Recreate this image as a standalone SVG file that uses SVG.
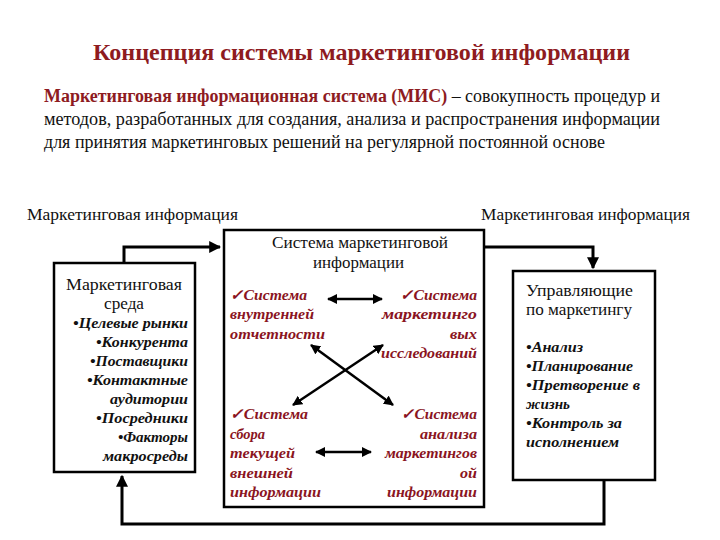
<svg xmlns="http://www.w3.org/2000/svg" width="720" height="540" viewBox="0 0 720 540">
<defs>
<marker id="ah" viewBox="0 0 10 10" refX="9" refY="5" markerWidth="4" markerHeight="4" orient="auto-start-reverse">
<path d="M0,0 L10,5 L0,10 z" fill="#000"/>
</marker>
</defs>
<rect width="720" height="540" fill="#fff"/>
<text font-family="Liberation Serif" font-size="23" font-weight="bold" fill="#8E1B1F" x="93" y="60" textLength="537" lengthAdjust="spacingAndGlyphs">Концепция системы маркетинговой информации</text>
<text font-family="Liberation Serif" font-size="18" fill="#111" x="44" y="102" textLength="616" lengthAdjust="spacingAndGlyphs"><tspan fill="#8E1B1F" font-weight="bold">Маркетинговая информационная система (МИС)</tspan> – совокупность процедур и</text>
<text font-family="Liberation Serif" font-size="18" fill="#111" x="44" y="125" textLength="616" lengthAdjust="spacingAndGlyphs">методов, разработанных для создания, анализа и распространения информации</text>
<text font-family="Liberation Serif" font-size="18" fill="#111" x="44" y="148" textLength="561" lengthAdjust="spacingAndGlyphs">для принятия маркетинговых решений на регулярной постоянной основе</text>
<text font-family="Liberation Serif" font-size="16" fill="#111" x="27" y="220" textLength="211" lengthAdjust="spacingAndGlyphs">Маркетинговая информация</text>
<text font-family="Liberation Serif" font-size="16" fill="#111" x="481" y="220" textLength="209" lengthAdjust="spacingAndGlyphs">Маркетинговая информация</text>
<g id="connectors" fill="none" stroke="#000" stroke-width="3">
<polyline points="124,263 124,247 220,247" marker-end="url(#ah)"/>
<polyline points="485,247 593,247 593,268" marker-end="url(#ah)"/>
<polyline points="604,481 604,524 122,524 122,476" marker-end="url(#ah)"/>
</g>
<g id="env">
<rect x="54" y="263" width="141" height="209" fill="#fff" stroke="#000" stroke-width="2.5"/>
<text font-family="Liberation Serif" font-size="16" fill="#111" x="66" y="290" textLength="116" lengthAdjust="spacingAndGlyphs">Маркетинговая</text>
<text font-family="Liberation Serif" font-size="16" fill="#111" x="104" y="309" textLength="40" lengthAdjust="spacingAndGlyphs">среда</text>
<g font-family="Liberation Serif" font-size="15" font-weight="bold" font-style="italic" fill="#111">
<text font-family="Liberation Serif" x="73" y="328" textLength="115" lengthAdjust="spacingAndGlyphs">•Целевые рынки</text>
<text font-family="Liberation Serif" x="96" y="347" textLength="92" lengthAdjust="spacingAndGlyphs">•Конкурента</text>
<text font-family="Liberation Serif" x="90" y="366" textLength="98" lengthAdjust="spacingAndGlyphs">•Поставщики</text>
<text font-family="Liberation Serif" x="87" y="385" textLength="101" lengthAdjust="spacingAndGlyphs">•Контактные</text>
<text font-family="Liberation Serif" x="110" y="404" textLength="78" lengthAdjust="spacingAndGlyphs">аудитории</text>
<text font-family="Liberation Serif" x="96" y="423" textLength="92" lengthAdjust="spacingAndGlyphs">•Посредники</text>
<text font-family="Liberation Serif" x="118" y="442" textLength="70" lengthAdjust="spacingAndGlyphs">•Факторы</text>
<text font-family="Liberation Serif" x="103" y="461" textLength="85" lengthAdjust="spacingAndGlyphs">макросреды</text>
</g>
</g>
<g id="mis">
<rect x="224" y="230" width="260" height="277" fill="#fff" stroke="#000" stroke-width="2.5"/>
<text font-family="Liberation Serif" font-size="16" fill="#111" x="272" y="248" textLength="176" lengthAdjust="spacingAndGlyphs">Система маркетинговой</text>
<text font-family="Liberation Serif" font-size="16" fill="#111" x="313" y="268" textLength="91" lengthAdjust="spacingAndGlyphs">информации</text>
<g font-family="Liberation Serif" font-size="15" font-weight="bold" font-style="italic" fill="#8A1422">
<g id="internal">
<text font-family="Liberation Serif" x="230" y="300" textLength="77" lengthAdjust="spacingAndGlyphs">✓Система</text>
<text font-family="Liberation Serif" x="230" y="319" textLength="84" lengthAdjust="spacingAndGlyphs">внутренней</text>
<text font-family="Liberation Serif" x="230" y="339" textLength="95" lengthAdjust="spacingAndGlyphs">отчетности</text>
</g>
<g id="research">
<text font-family="Liberation Serif" x="400" y="300" textLength="77" lengthAdjust="spacingAndGlyphs">✓Система</text>
<text font-family="Liberation Serif" x="382" y="319" textLength="95" lengthAdjust="spacingAndGlyphs">маркетинго</text>
<text font-family="Liberation Serif" x="450" y="339" textLength="27" lengthAdjust="spacingAndGlyphs">вых</text>
<text font-family="Liberation Serif" x="381" y="358" textLength="96" lengthAdjust="spacingAndGlyphs">исследований</text>
</g>
<g id="intel">
<text font-family="Liberation Serif" x="230" y="419" textLength="78" lengthAdjust="spacingAndGlyphs">✓Система</text>
<text font-family="Liberation Serif" x="230" y="439" textLength="35" lengthAdjust="spacingAndGlyphs">сбора</text>
<text font-family="Liberation Serif" x="230" y="458" textLength="65" lengthAdjust="spacingAndGlyphs">текущей</text>
<text font-family="Liberation Serif" x="230" y="478" textLength="63" lengthAdjust="spacingAndGlyphs">внешней</text>
<text font-family="Liberation Serif" x="230" y="497" textLength="91" lengthAdjust="spacingAndGlyphs">информации</text>
</g>
<g id="analysis">
<text font-family="Liberation Serif" x="401" y="419" textLength="76" lengthAdjust="spacingAndGlyphs">✓Система</text>
<text font-family="Liberation Serif" x="420" y="439" textLength="57" lengthAdjust="spacingAndGlyphs">анализа</text>
<text font-family="Liberation Serif" x="385" y="458" textLength="92" lengthAdjust="spacingAndGlyphs">маркетингов</text>
<text font-family="Liberation Serif" x="460" y="478" textLength="17" lengthAdjust="spacingAndGlyphs">ой</text>
<text font-family="Liberation Serif" x="387" y="497" textLength="90" lengthAdjust="spacingAndGlyphs">информации</text>
</g>
</g>
<g id="inner-connectors" fill="none" stroke="#000" stroke-width="2.5">
<line x1="328" y1="299" x2="382" y2="299" marker-start="url(#ah)" marker-end="url(#ah)"/>
<line x1="316" y1="452" x2="371" y2="452" marker-start="url(#ah)" marker-end="url(#ah)"/>
<line x1="311" y1="345" x2="393" y2="405" marker-start="url(#ah)" marker-end="url(#ah)"/>
<line x1="383" y1="345" x2="293" y2="405" marker-start="url(#ah)" marker-end="url(#ah)"/>
</g>
</g>
<g id="managers">
<rect x="513" y="271" width="142" height="209" fill="#fff" stroke="#000" stroke-width="2.5"/>
<text font-family="Liberation Serif" font-size="16" fill="#111" x="526" y="296" textLength="107" lengthAdjust="spacingAndGlyphs">Управляющие</text>
<text font-family="Liberation Serif" font-size="16" fill="#111" x="526" y="315" textLength="106" lengthAdjust="spacingAndGlyphs">по маркетингу</text>
<g font-family="Liberation Serif" font-size="15" font-weight="bold" font-style="italic" fill="#111">
<text font-family="Liberation Serif" x="526" y="352" textLength="57" lengthAdjust="spacingAndGlyphs">•Анализ</text>
<text font-family="Liberation Serif" x="526" y="371" textLength="107" lengthAdjust="spacingAndGlyphs">•Планирование</text>
<text font-family="Liberation Serif" x="526" y="390" textLength="114" lengthAdjust="spacingAndGlyphs">•Претворение в</text>
<text font-family="Liberation Serif" x="526" y="409" textLength="44" lengthAdjust="spacingAndGlyphs">жизнь</text>
<text font-family="Liberation Serif" x="526" y="428" textLength="96" lengthAdjust="spacingAndGlyphs">•Контроль за</text>
<text font-family="Liberation Serif" x="526" y="447" textLength="93" lengthAdjust="spacingAndGlyphs">исполнением</text>
</g>
</g>
</svg>
